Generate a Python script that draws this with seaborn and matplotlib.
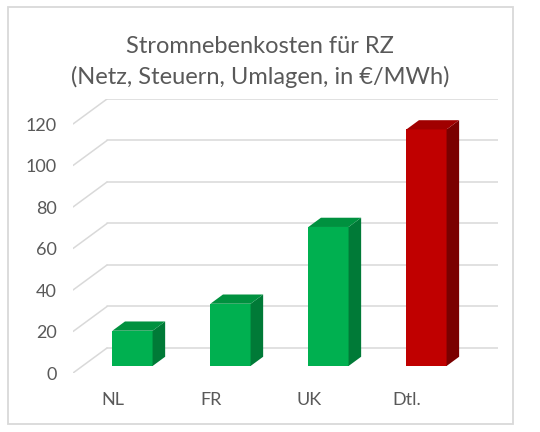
import numpy as np
import pandas as pd
import matplotlib
matplotlib.use("Agg")
import matplotlib.pyplot as plt
from matplotlib.patches import Polygon, Rectangle
import seaborn as sns

# data (EUR/MWh)
countries = ["NL", "FR", "UK", "Dtl."]
costs = [17, 30, 67, 114]
y_ticks = [0, 20, 40, 60, 80, 100, 120]

title = "Stromnebenkosten für RZ\n(Netz, Steuern, Umlagen, in €/MWh)"

front_colors = ["#00b050", "#00b050", "#00b050", "#c00000"]
side_colors = ["#007a37", "#007a37", "#007a37", "#7a0000"]
top_colors = ["#00913f", "#00913f", "#00913f", "#a00000"]

# fake 3D: depth offsets in data units (x in category units, y in value units)
depth_dx, depth_dy = 0.347, 12.05
front_t, bar_t = 0.28, 0.65  # where bar front / back face sit in the depth
front_dx, front_dy = -front_t * depth_dx, -front_t * depth_dy
back_dx, back_dy = (1 - front_t) * depth_dx, (1 - front_t) * depth_dy
bar_dx, bar_dy = (bar_t - front_t) * depth_dx, (bar_t - front_t) * depth_dy

grid_col = "#d9d9d9"
text_col = "#595959"

sns.set_theme(style="white")
plt.rcParams["font.family"] = ["Lato", "DejaVu Sans"]

fig = plt.figure(figsize=(5.4, 4.32), dpi=100)
W, H = 540, 432
ax = fig.add_axes([73 / W, (H - 373) / H, 425 / W, 274 / H])

df = pd.DataFrame({"country": countries, "cost": costs})
sns.barplot(data=df, x="country", y="cost", hue="country", palette=front_colors,
            order=countries, width=0.41, saturation=1, legend=False, ax=ax,
            linewidth=0, edgecolor="none", zorder=3)

x_lo, x_hi = -0.607, 3.73
ax.set_xlim(x_lo, x_hi)
ax.set_ylim(front_dy, y_ticks[-1] + back_dy)

# back wall grid + left side wall diagonals
x_back_left = x_lo + depth_dx
for v in y_ticks:
    ax.plot([x_back_left, x_hi], [v + back_dy, v + back_dy], color=grid_col, lw=1.1, zorder=1)
    ax.plot([x_lo, x_back_left], [v + front_dy, v + back_dy], color=grid_col, lw=1.1, zorder=1)

# side and top faces for each bar
for i, p in enumerate(ax.patches[:len(countries)]):
    x0, w, h = p.get_x(), p.get_width(), p.get_height()
    side = Polygon([(x0 + w, 0), (x0 + w + bar_dx, bar_dy),
                    (x0 + w + bar_dx, h + bar_dy), (x0 + w, h)],
                   closed=True, facecolor=side_colors[i], edgecolor="none", zorder=3)
    top = Polygon([(x0, h), (x0 + bar_dx, h + bar_dy),
                   (x0 + w + bar_dx, h + bar_dy), (x0 + w, h)],
                  closed=True, facecolor=top_colors[i], edgecolor="none", zorder=3)
    ax.add_patch(side)
    ax.add_patch(top)

# axis labels sit on the front plane
ax.set_yticks(np.array(y_ticks) + front_dy, labels=[str(v) for v in y_ticks])
ax.set_xticks(np.arange(len(countries)) + front_dx - 0.1, labels=countries)
ax.tick_params(axis="y", length=0, pad=11.5, labelsize=13, labelcolor=text_col)
ax.tick_params(axis="x", length=0, pad=14, labelsize=13, labelcolor=text_col)
ax.set_xlabel("")
ax.set_ylabel("")
for s in ax.spines.values():
    s.set_visible(False)
ax.patch.set_alpha(0)

fig.text(260 / W, 1 - 62 / H, title, ha="center", va="center", fontsize=17,
         color=text_col, linespacing=1.45)

# chart area border
fig.patches.append(Rectangle((8 / W, 1 - 424 / H), 505 / W, 417 / H, transform=fig.transFigure,
                             fill=False, edgecolor=grid_col, lw=1.3))

fig.savefig("out.png", dpi=100)
